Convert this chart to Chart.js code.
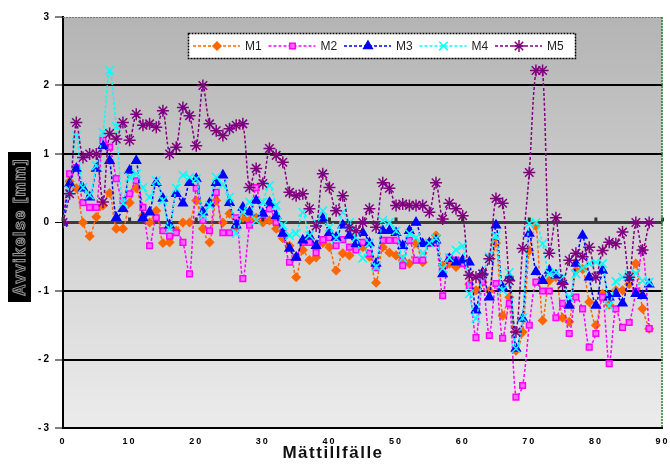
<!DOCTYPE html>
<html>
<head>
<meta charset="utf-8">
<script src="https://cdn.jsdelivr.net/npm/chart.js"></script>
<style>
  body { margin: 0; background: #fff; }
  canvas { display: block; }
</style>
</head>
<body>
<canvas id="myChart" width="670" height="470"></canvas>
<script>
// Avvikelse [mm] per mättillfälle (0..88)
const m1 = [0, 0.6, 0.5, 0.0, -0.2, 0.08, 0.25, 0.43, -0.09, -0.09,
  0.29, 0.5, 0.1, 0.0, 0.17, -0.3, -0.29, -0.12, 0.0, 0.0,
  0.32, -0.09, -0.29, 0.32, 0.0, 0.13, -0.07, 0.07, 0.03, 0.07,
  0.0, 0.03, -0.09, -0.23, -0.34, -0.8, -0.4, -0.55, -0.51, -0.3,
  -0.36, -0.7, -0.45, -0.48, -0.38, -0.36, -0.5, -0.88, -0.36, -0.44,
  -0.48, -0.55, -0.6, -0.3, -0.58, -0.29, -0.19, -0.63, -0.6, -0.65,
  -0.55, -0.9, -0.99, -0.87, -1.0, -0.3, -1.36, -1.09, -1.87, -1.6,
  -0.41, -0.05, -1.43, -0.85, -0.8, -1.39, -1.45, -0.7, -0.68, -1.16,
  -1.5, -1.04, -1.2, -0.99, -0.99, -0.9, -0.6, -1.26, -1.55];
const m2 = [0, 0.71, 0.8, 0.29, 0.22, 0.22, 1.2, 1.1, 0.64, 0.32,
  0.42, 0.61, 0.22, -0.34, 0.07, -0.12, -0.2, -0.15, -0.29, -0.75,
  0.5, 0.03, -0.12, 0.44, -0.15, -0.15, 0.07, -0.82, -0.04, 0.51,
  0.1, 0.2, 0.0, -0.16, -0.58, -0.51, -0.29, -0.29, -0.44, -0.25,
  -0.22, -0.34, -0.25, -0.36, -0.4, -0.29, -0.45, -0.66, -0.26, -0.26,
  -0.26, -0.63, -0.26, -0.55, -0.55, -0.3, -0.3, -1.07, -0.51, -0.55,
  -0.6, -0.92, -1.68, -0.87, -1.65, -0.89, -1.69, -1.18, -2.55, -2.38,
  -1.5, -0.87, -1.0, -1.0, -1.39, -1.18, -1.62, -1.09, -1.26, -1.82,
  -1.62, -1.09, -2.06, -1.26, -1.53, -1.46, -1.0, -0.41, -1.55];
const m3 = [0, 0.57, 0.79, 0.5, 0.37, 0.79, 1.12, 0.9, 0.07, 0.2,
  0.76, 0.9, 0.07, 0.15, 0.58, 0.35, -0.04, 0.42, 0.28, 0.58,
  0.64, 0.15, 0.28, 0.58, 0.69, 0.29, -0.04, 0.22, 0.15, 0.32,
  0.13, 0.29, 0.1, -0.16, -0.38, -0.51, -0.26, -0.2, -0.34, 0.06,
  -0.15, -0.22, -0.04, -0.19, -0.31, -0.15, -0.3, -0.6, -0.12, -0.12,
  -0.15, -0.34, -0.12, 0.0, -0.31, -0.3, -0.26, -0.75, -0.53, -0.58,
  -0.55, -0.58, -1.28, -0.73, -1.09, -0.04, -0.95, -0.8, -1.84, -1.4,
  -0.16, -0.72, -0.85, -0.7, -0.77, -0.85, -1.21, -0.6, -0.19, -0.8,
  -1.21, -0.7, -1.09, -1.04, -1.18, -0.8, -1.04, -1.07, -0.9];
const m4 = [0, 0.47, 1.27, 0.51, 0.4, 0.83, 1.31, 2.22, 1.4, 0.28,
  0.66, 0.71, 0.51, 0.37, 0.61, 0.32, -0.09, 0.5, 0.69, 0.66,
  0.64, 0.1, 0.25, 0.66, 0.55, 0.37, -0.16, 0.15, 0.3, 0.03,
  0.3, 0.54, 0.25, -0.04, -0.19, -0.16, 0.15, -0.19, 0.0, 0.17,
  -0.07, -0.23, 0.15, 0.0, -0.22, -0.52, -0.3, -0.65, 0.03, 0.0,
  -0.12, -0.52, -0.16, -0.22, -0.45, -0.3, -0.23, -0.67, -0.51, -0.4,
  -0.34, -1.04, -1.4, -0.75, -0.5, -0.19, -0.99, -0.73, -1.84, -1.39,
  -0.01, 0.0, -0.31, -0.75, -0.73, -0.8, -1.09, -0.75, -0.66, -0.6,
  -0.58, -0.6, -1.22, -0.86, -0.8, -0.76, -0.74, -0.85, -0.87];
const m5 = [0, 0.42, 1.46, 0.95, 1.0, 1.0, 0.3, 1.3, 1.22, 1.46,
  1.2, 1.58, 1.42, 1.44, 1.39, 1.63, 1.0, 1.1, 1.68, 1.56,
  1.12, 2.0, 1.44, 1.34, 1.27, 1.37, 1.42, 1.44, 0.51, 0.79,
  0.57, 1.08, 0.98, 0.88, 0.44, 0.39, 0.42, 0.2, -0.05, 0.71,
  0.51, 0.17, 0.39, -0.07, -0.12, 0.0, 0.2, -0.07, 0.58, 0.5,
  0.25, 0.27, 0.25, 0.25, 0.25, 0.15, 0.58, 0.05, 0.28, 0.2,
  0.1, -0.77, -0.8, -0.75, -0.53, 0.35, 0.28, -0.85, -1.6, -0.38,
  0.73, 2.22, 2.22, -0.45, 0.07, -0.9, -0.55, -0.45, -0.5, -0.36,
  -0.8, -0.41, -0.29, -0.31, -0.14, -0.8, 0.0, -0.4, 0.0];

const seriesNames = ['M1', 'M2', 'M3', 'M4', 'M5'];
const xTicks = [0, 10, 20, 30, 40, 50, 60, 70, 80, 90];
const yTicks = [-3, -2, -1, 0, 1, 2, 3];

const toPoints = arr => arr.map((v, i) => ({ x: i, y: v }));

const styles = [
  { color: '#ff6600', fill: '#ff6600', pointStyle: 'rectRot', radius: 4 },
  { color: '#ff00ff', fill: '#ff66ff', pointStyle: 'rect', radius: 4 },
  { color: '#0000ff', fill: '#0000ff', pointStyle: 'triangle', radius: 5 },
  { color: '#00ffff', fill: '#00ffff', pointStyle: 'crossRot', radius: 6 },
  { color: '#800080', fill: '#800080', pointStyle: 'star', radius: 6 }
];

const allSeries = [m1, m2, m3, m4, m5];

const datasets = allSeries.map((arr, k) => ({
  label: seriesNames[k],
  data: toPoints(arr),
  borderColor: styles[k].color,
  backgroundColor: styles[k].fill,
  pointBackgroundColor: styles[k].fill,
  pointBorderColor: styles[k].color,
  pointStyle: styles[k].pointStyle,
  pointRadius: styles[k].radius,
  pointBorderWidth: 1.5,
  borderWidth: 1.5,
  borderDash: [3, 2],
  tension: 0.3,
  order: 5 - k
}));

const decor = {
  id: 'decor',
  beforeDraw(chart) {
    const { ctx, chartArea: a } = chart;
    ctx.save();
    ctx.fillStyle = '#ffffff';
    ctx.fillRect(0, 0, chart.width, chart.height);
    const g = ctx.createLinearGradient(0, a.top, 0, a.bottom);
    g.addColorStop(0, '#b4b4b4');
    g.addColorStop(1, '#ececec');
    ctx.fillStyle = g;
    ctx.fillRect(a.left, a.top, a.right - a.left, a.bottom - a.top);
    ctx.restore();
    ctx.letterSpacing = '2px';
  },
  afterDatasetsDraw(chart) {
    const { ctx, chartArea: a, scales } = chart;
    ctx.save();
    ctx.letterSpacing = '0px';
    // small tick marks on the zero line
    const y0 = scales.y.getPixelForValue(0);
    ctx.fillStyle = '#333';
    xTicks.forEach(t => {
      const px = scales.x.getPixelForValue(t);
      ctx.fillRect(px - 1.5, y0 - 5, 3, 4);
    });
    // top and right borders
    ctx.setLineDash([2, 1]);
    ctx.lineWidth = 1;
    ctx.strokeStyle = '#777';
    ctx.beginPath();
    ctx.moveTo(a.left, a.top + 0.5);
    ctx.lineTo(a.right, a.top + 0.5);
    ctx.stroke();
    ctx.strokeStyle = '#2f7d2f';
    ctx.lineWidth = 1.5;
    ctx.beginPath();
    ctx.moveTo(a.right - 0.5, a.top);
    ctx.lineTo(a.right - 0.5, a.bottom);
    ctx.stroke();

    // legend box
    ctx.setLineDash([]);
    ctx.fillStyle = '#ffffff';
    ctx.fillRect(188, 33, 387, 25);
    ctx.setLineDash([2, 1]);
    ctx.strokeStyle = '#000';
    ctx.lineWidth = 1.5;
    ctx.strokeRect(188.5, 33.5, 387, 25);
    chart.data.datasets.forEach((ds, k) => {
      const x0 = 193 + k * 75.5;
      const y = 46;
      ctx.setLineDash([3, 2]);
      ctx.strokeStyle = ds.borderColor;
      ctx.lineWidth = 1.5;
      ctx.beginPath();
      ctx.moveTo(x0, y);
      ctx.lineTo(x0 + 47, y);
      ctx.stroke();
      ctx.setLineDash([]);
      ctx.fillStyle = ds.pointBackgroundColor;
      ctx.strokeStyle = ds.pointBorderColor;
      Chart.helpers.drawPoint(ctx, {
        pointStyle: ds.pointStyle,
        radius: ds.pointRadius,
        rotation: 0,
        borderWidth: 1.5
      }, x0 + 24, y);
      ctx.fillStyle = '#222';
      ctx.font = '12px Arial, "Liberation Sans", sans-serif';
      ctx.textAlign = 'left';
      ctx.textBaseline = 'middle';
      ctx.fillText(ds.label, x0 + 52, y + 0.5);
    });
    ctx.restore();
  },
  afterDraw(chart) {
    const ctx = chart.ctx;
    ctx.save();
    // y axis title: outlined text in a black box
    ctx.fillStyle = '#000';
    ctx.fillRect(8, 152, 23, 150);
    ctx.translate(20, 227);
    ctx.rotate(-Math.PI / 2);
    ctx.font = 'bold 16px Arial, "Liberation Sans", sans-serif';
    ctx.letterSpacing = '1.5px';
    ctx.textAlign = 'center';
    ctx.textBaseline = 'middle';
    ctx.lineWidth = 1;
    ctx.strokeStyle = '#9a9a9a';
    ctx.strokeText('Avvikelse [mm]', 0, 1);
    ctx.restore();

    ctx.save();
    ctx.font = 'bold 17px Arial, "Liberation Sans", sans-serif';
    ctx.letterSpacing = '1.5px';
    ctx.fillStyle = '#111';
    ctx.textAlign = 'center';
    ctx.textBaseline = 'middle';
    ctx.fillText('Mättillfälle', 333, 453);
    ctx.restore();
    ctx.letterSpacing = '0px';
  }
};

const ctx = document.getElementById('myChart').getContext('2d');

const myChart = new Chart(ctx, {
  type: 'line',
  data: { datasets: datasets },
  options: {
    responsive: false,
    animation: false,
    layout: { padding: { top: 17, right: 4, bottom: 0, left: 0 } },
    plugins: {
      legend: { display: false },
      tooltip: { enabled: false }
    },
    scales: {
      x: {
        type: 'linear',
        min: 0,
        max: 90,
        afterBuildTicks: scale => { scale.ticks = xTicks.map(v => ({ value: v })); },
        afterFit: scale => {
          scale.height = 42;
          scale.paddingLeft = 0;
          scale.paddingRight = 0;
        },
        border: { display: true, color: '#000', width: 2 },
        grid: { display: true, drawOnChartArea: false, drawTicks: false },
        ticks: {
          color: '#000',
          padding: 8,
          maxRotation: 0,
          autoSkip: false,
          font: { family: 'Arial, "Liberation Sans", sans-serif', size: 9, weight: 'bold' }
        }
      },
      y: {
        min: -3,
        max: 3,
        afterBuildTicks: scale => { scale.ticks = yTicks.map(v => ({ value: v })); },
        afterFit: scale => { scale.width = 63; },
        border: { display: true, color: '#000', width: 2 },
        grid: {
          color: c => c.tick.value === 0 ? '#3c3c3c' : (c.tick.value === 3 ? 'rgba(0,0,0,0)' : '#000'),
          lineWidth: c => c.tick.value === 0 ? 3 : 2,
          tickColor: '#000',
          tickWidth: 1,
          tickLength: 8
        },
        ticks: {
          color: '#000',
          padding: 4,
          font: { family: 'Arial, "Liberation Sans", sans-serif', size: 10, weight: 'bold' }
        }
      }
    }
  },
  plugins: [decor]
});
</script>
</body>
</html>
